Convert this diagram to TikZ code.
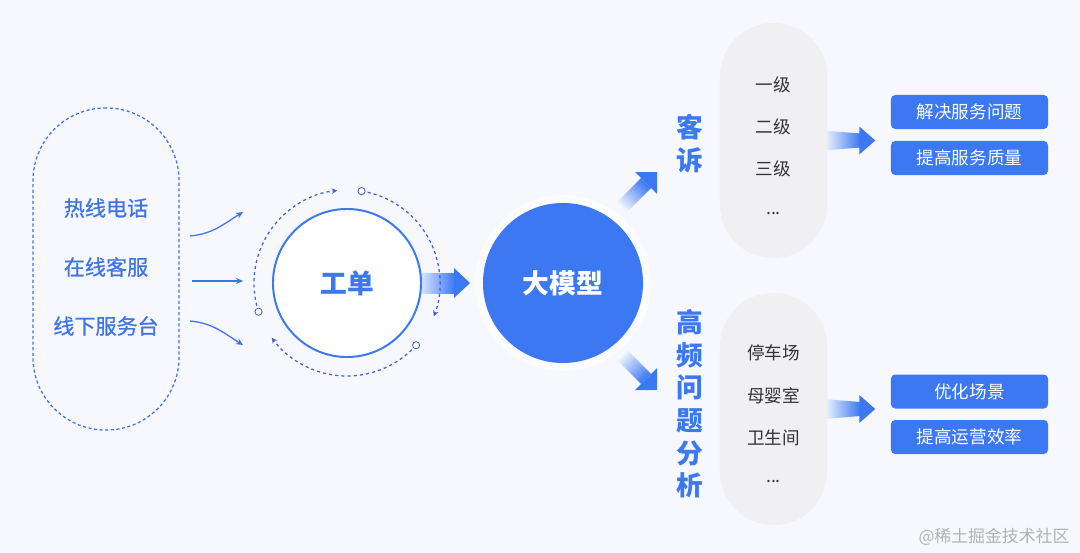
\documentclass[tikz,border=0pt]{standalone}
\usepackage{fontspec}
\newfontfamily\cjk{Noto Sans CJK SC}
\newfontfamily\cjkmid{Noto Sans CJK SC}[FakeBold=0.8]
\usetikzlibrary{arrows.meta,calc}
\pgfdeclarelayer{bg}
\pgfdeclarelayer{under}
\pgfsetlayers{bg,under,main}
\definecolor{bgc}{HTML}{F6F8FD}
\definecolor{mblue}{HTML}{3B78F2}
\definecolor{tblue}{HTML}{3E74E6}
\definecolor{dblue}{HTML}{4B5FD2}
\definecolor{pgray}{HTML}{F0F0F2}
\definecolor{tgray}{HTML}{333333}
\tikzset{
  srcpill/.style={draw=tblue, dash pattern=on 2.2pt off 1.8pt, line width=0.9pt,
    minimum width=3.65cm, minimum height=8.05cm, rounded corners=1.82cm},
  srctext/.style={text=tblue, font=\cjkmid\fontsize{15}{18}\selectfont},
  feed/.style={tblue, line width=0.9pt, -{Stealth[length=5pt,width=4.5pt]}},
  ticket/.style={circle, draw=mblue, fill=white, line width=1.4pt, minimum size=3.7cm,
    text=mblue, font=\cjk\bfseries\fontsize{19}{22}\selectfont},
  ring/.style={dblue, line width=0.9pt, dash pattern=on 2.2pt off 2.2pt,
    -{Stealth[length=4pt,width=4pt]}},
  dot/.style={circle, draw=dblue, fill=white, line width=0.6pt, inner sep=0pt, minimum size=0.18cm},
  llmc/.style={circle, fill=mblue, minimum size=4cm, text=white,
    font=\cjk\bfseries\fontsize{19}{22}\selectfont},
  vlabel/.style={text=mblue, align=center, font=\cjk\bfseries\fontsize{19}{23.2}\selectfont},
  lvpill/.style={fill=pgray, minimum width=2.675cm, rounded corners=1.33cm},
  lvtext/.style={text=tgray, font=\cjk\fontsize{12.5}{15}\selectfont},
  goal/.style={fill=mblue, rounded corners=3pt, minimum width=3.925cm, minimum height=0.85cm,
    text=white, font=\cjk\fontsize{12.5}{15}\selectfont},
  fade/.style={shading=axis, top color=mblue, bottom color=mblue!4},
}
\begin{document}
\begin{tikzpicture}[x=0.025cm,y=0.025cm]
  \useasboundingbox (0,0) rectangle (1080,-553);
  \begin{pgfonlayer}{bg}
    \fill[bgc] (0,0) rectangle (1080,-553);
  \end{pgfonlayer}

  % channels
  \node[srcpill] (src) at (106,-269) {};
  \node[srctext] (hot) at (106,-208) {热线电话};
  \node[srctext] (web) at (106,-267) {在线客服};
  \node[srctext] (desk) at (106,-326) {线下服务台};

  \coordinate (f1s) at (190,-236); \coordinate (f1e) at (243,-212);
  \coordinate (f2s) at (192,-281); \coordinate (f2e) at (243,-281);
  \coordinate (f3s) at (190,-321); \coordinate (f3e) at (243,-345);
  \draw[feed] (f1s) to[out=5,in=212] (f1e);
  \draw[feed] (f2s) -- (f2e);
  \draw[feed] (f3s) to[out=-5,in=148] (f3e);

  % work order
  \node[ticket] (gd) at (347,-283) {工单};
  \foreach \s in {198,81,-42}{
    \draw[ring] (gd.center) ++(\s:93) arc[start angle=\s, end angle=\s-102, radius=93];
    \path (gd.center) ++(\s:93) node[dot] {};
  }

  % model
  \node[llmc] (llm) at (563,-283) {大模型};

  \node[vlabel] (ks) at (690,-143.5) {客\\诉};
  \node[vlabel] (gp) at (690,-404) {高\\频\\问\\题\\分\\析};

  \node[lvpill, minimum height=5.875cm] (kspill) at (773.5,-140.5) {};
  \node[lvtext] (l1) at (773.5,-85) {一级};
  \node[lvtext] (l2) at (773.5,-127) {二级};
  \node[lvtext] (l3) at (773.5,-169) {三级};
  \node[lvtext] (l4) at (773.5,-214) {...};

  \node[lvpill, minimum height=5.8cm] (gppill) at (773.5,-409) {};
  \node[lvtext] (p1) at (773.5,-353) {停车场};
  \node[lvtext] (p2) at (773.5,-396) {母婴室};
  \node[lvtext] (p3) at (773.5,-438) {卫生间};
  \node[lvtext] (p4) at (773.5,-482) {...};

  \node[goal] (g1) at (969.5,-112) {解决服务问题};
  \node[goal] (g2) at (969.5,-158) {提高服务质量};
  \node[goal] (g3) at (969.5,-391.5) {优化场景};
  \node[goal] (g4) at (969.5,-437) {提高运营效率};

  \node[text=black!30, font=\cjk\fontsize{12}{14}\selectfont] (mark) at (994,-537) {@稀土掘金技术社区};

  % fat arrows
  \begin{pgfonlayer}{under}
    \fill[white, opacity=0.7] (llm.center) circle (88);
    \begin{scope}[shift={(gd.east)}]
      \shade[fade, shading angle=-90] (-8,10) rectangle (33,-10);
      \fill[mblue] (32,15) -- (48,0) -- (32,-15) -- cycle;
    \end{scope}
    \begin{scope}[shift={(llm.center)}]
      \shade[fade, shading angle=-45] (78,105) -- (88,95) -- (63,70) -- (53,80) -- cycle;
      \fill[mblue] (94,111) -- (72,111) -- (94,89) -- cycle;
      \shade[fade, shading angle=-135] (78,-101) -- (88,-91) -- (63,-66) -- (53,-76) -- cycle;
      \fill[mblue] (94,-107) -- (72,-107) -- (94,-85) -- cycle;
    \end{scope}
    \foreach \p in {kspill,gppill}{
      \begin{scope}[shift={(\p.east)}]
        \shade[fade, shading angle=-90] (-4,10) -- (33,7) -- (33,-7) -- (-4,-10) -- cycle;
        \fill[mblue] (32,14) -- (48,0) -- (32,-14) -- cycle;
      \end{scope}
    }
  \end{pgfonlayer}
\end{tikzpicture}
\end{document}
